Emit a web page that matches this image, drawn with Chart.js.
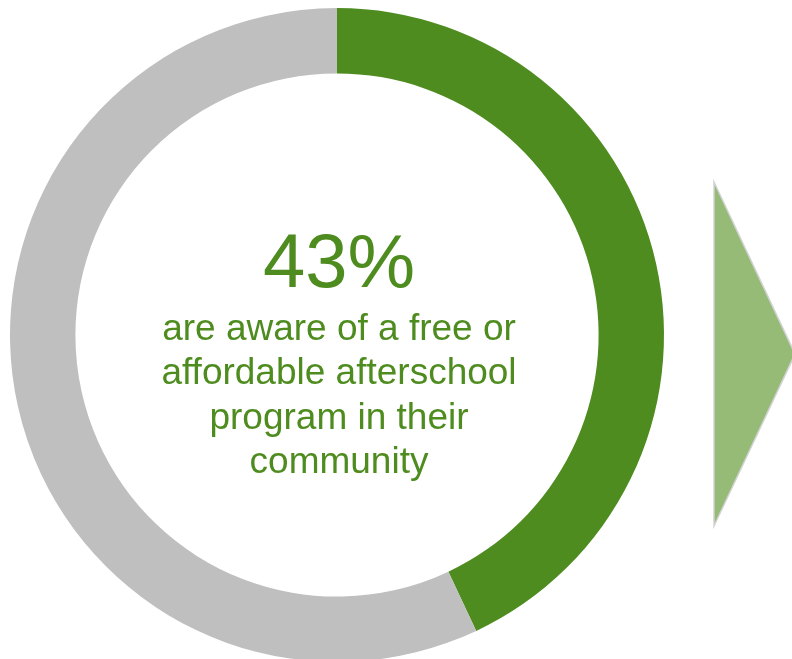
<!DOCTYPE html>
<html>
<head>
<meta charset="utf-8">
<script src="https://cdn.jsdelivr.net/npm/chart.js@4/dist/chart.umd.min.js"></script>
<style>
  html, body { margin: 0; padding: 0; background: #ffffff; overflow: hidden; }
  #wrap { position: relative; width: 792px; height: 670px; }
</style>
</head>
<body>
<div id="wrap"><canvas id="chart"></canvas></div>
<script>
// Share of respondents aware of a free or affordable afterschool program
const categories = ['Aware', 'Not aware'];
const shares = [43, 57];
const sliceColors = ['#4E8C1F', '#BFBFBF'];
const headline = '43%';
const captionLines = [
  'are aware of a free or',
  'affordable afterschool',
  'program in their',
  'community'
];
const textColor = '#4E8C1F';

// Centre label and the arrow pointing to the next panel
const centerText = {
  id: 'centerText',
  afterDraw(chart) {
    const ctx = chart.ctx;
    const arc = chart.getDatasetMeta(0).data[0];
    const cx = arc.x + 2;
    const cy = arc.y;
    const outer = arc.outerRadius;
    ctx.save();
    ctx.fillStyle = textColor;
    ctx.textAlign = 'center';
    ctx.textBaseline = 'alphabetic';
    ctx.font = '76px "Liberation Sans", Arial, sans-serif';
    ctx.fillText(headline, cx, cy - 48);
    ctx.font = '37px "Liberation Sans", Arial, sans-serif';
    captionLines.forEach((line, i) => {
      ctx.fillText(line, cx, cy + 5 + i * 44.3);
    });

    // arrow
    const ax = cx - 2 + outer + 50;
    ctx.beginPath();
    ctx.moveTo(ax, cy - 153);
    ctx.lineTo(ax + 81, cy + 19);
    ctx.lineTo(ax, cy + 191);
    ctx.closePath();
    ctx.fillStyle = '#95BB77';
    ctx.fill();
    ctx.lineWidth = 1.5;
    ctx.strokeStyle = '#D2D2D2';
    ctx.stroke();
    ctx.restore();
  }
};

new Chart(document.getElementById('chart'), {
  type: 'doughnut',
  data: {
    labels: categories,
    datasets: [{
      data: shares,
      backgroundColor: sliceColors,
      borderWidth: 0,
      hoverOffset: 0
    }]
  },
  options: {
    responsive: true,
    maintainAspectRatio: false,
    animation: false,
    cutout: '80%',
    layout: { padding: { left: 10, right: 128, top: 8, bottom: 8 } },
    plugins: {
      legend: { display: false },
      tooltip: { enabled: false }
    }
  },
  plugins: [centerText]
});
</script>
</body>
</html>
